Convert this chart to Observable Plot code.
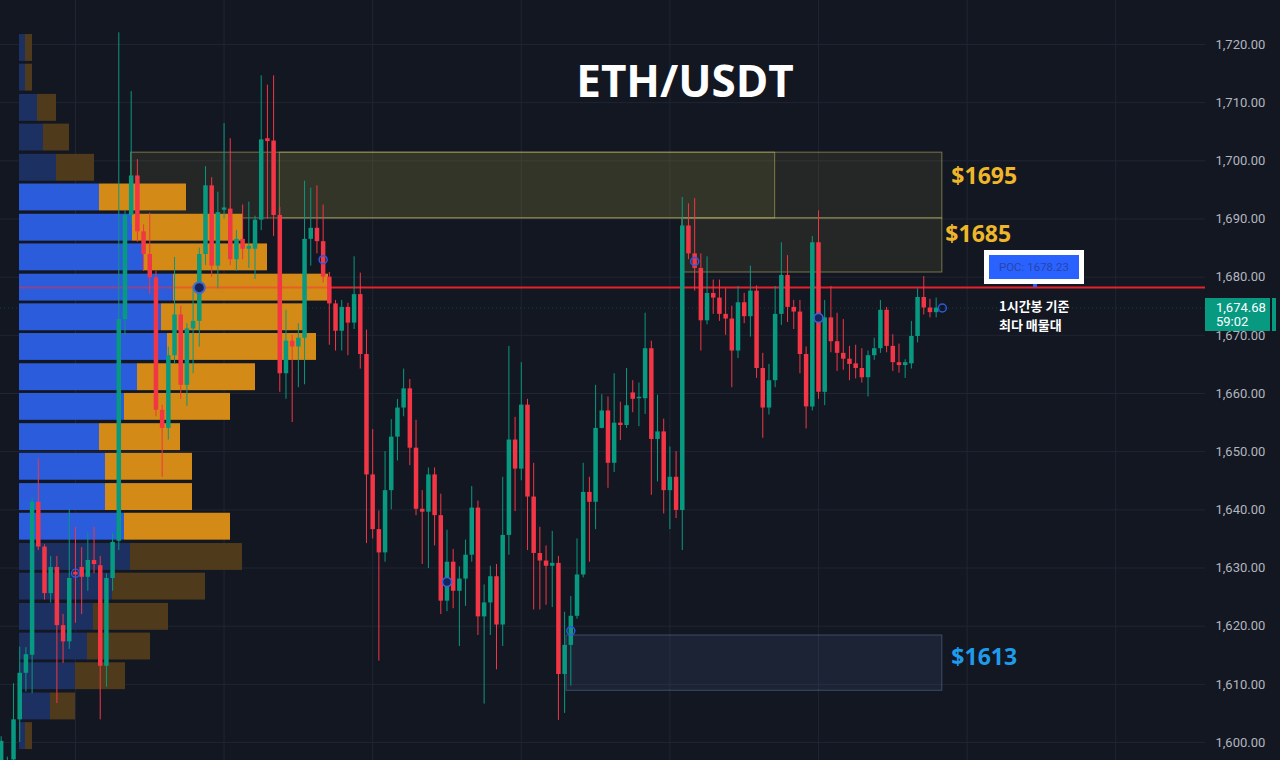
<!DOCTYPE html>
<html>
<head>
<meta charset="utf-8">
<script src="https://cdn.jsdelivr.net/npm/d3@7"></script>
<script src="https://cdn.jsdelivr.net/npm/@observablehq/plot@0.6"></script>
<style>
  html, body { margin: 0; padding: 0; background: #131722; overflow: hidden; }
  #wrap { position: relative; width: 1280px; height: 760px; overflow: hidden; background: #131722; font-family: "Open Sans", "Noto Sans", sans-serif; }
  #wrap > svg, #wrap > .layer { position: absolute; left: 0; top: 0; }
  .ov { position: absolute; }
</style>
</head>
<body>
<div id="wrap"></div>
<script>
// ---------------- DATA ----------------
const chartTitle = "ETH/USDT";

// 1h candles (index order, left to right)
const candleOpen = [1596.5,1593.0,1597.0,1603.9,1611.9,1615.0,1641.3,1633.6,1625.6,1630.1,1620.1,1617.3,1629.3,1630.1,1628.4,1631.3,1630.4,1613.1,1628.2,1634.6,
1672.7,1690.6,1697.4,1687.8,1683.9,1679.9,1657.1,1654.0,1666.5,1673.5,1661.4,1671.1,1672.4,1683.9,1695.7,1681.9,1691.5,1691.7,1683.0,1686.5,
1684.8,1684.8,1689.8,1703.8,1703.4,1690.6,1663.4,1669.0,1668.0,1669.5,1686.5,1688.4,1686.1,1680.0,1675.4,1670.7,1674.8,1672.1,1677.0,1666.7,
1646.0,1636.6,1632.6,1643.3,1652.5,1657.5,1660.8,1650.6,1640.1,1639.6,1646.0,1639.0,1624.3,1631.0,1626.0,1628.1,1632.2,1640.3,1621.6,1624.0,
1628.5,1620.2,1635.6,1652.0,1647.0,1658.0,1642.2,1632.5,1631.2,1630.3,1630.8,1611.7,1616.7,1621.7,1628.8,1643.0,1641.3,1654.0,1657.0,1648.0,
1654.9,1654.5,1660.1,1659.1,1659.1,1667.7,1652.1,1653.4,1643.3,1645.6,1639.9,1688.8,1684.0,1681.5,1672.5,1677.2,1676.4,1673.6,1672.8,1667.3,
1675.6,1673.2,1677.6,1664.3,1657.5,1662.2,1673.6,1680.3,1674.8,1674.0,1666.7,1657.7,1685.9,1660.2,1673.0,1668.9,1666.9,1665.9,1665.1,1664.3,
1662.7,1666.5,1667.7,1674.3,1668.1,1665.3,1664.8,1665.1,1669.8,1676.5,1674.7,1673.9];
const candleHigh = [1601.0,1597.5,1610.1,1616.4,1616.3,1642.0,1648.8,1634.0,1632.0,1632.0,1622.0,1640.0,1637.0,1633.5,1636.0,1637.0,1632.0,1629.0,1636.0,1722.0,
1691.5,1711.9,1700.2,1689.0,1691.0,1681.0,1658.0,1668.0,1683.4,1675.0,1672.0,1678.5,1685.0,1699.0,1697.1,1694.6,1706.4,1703.8,1688.0,1692.4,
1692.9,1690.5,1714.6,1713.0,1714.6,1692.0,1674.3,1670.0,1672.0,1696.5,1695.3,1695.7,1692.4,1680.8,1676.0,1676.0,1675.5,1683.5,1680.7,1670.9,
1653.8,1639.8,1650.0,1655.5,1659.0,1664.2,1662.4,1655.4,1643.3,1647.2,1647.2,1642.7,1636.5,1633.2,1630.2,1634.8,1644.0,1641.5,1627.1,1630.3,
1630.6,1645.6,1668.1,1655.9,1665.3,1659.0,1648.0,1637.0,1633.8,1636.3,1632.0,1622.4,1625.1,1635.0,1648.0,1645.6,1661.4,1659.8,1659.4,1663.4,
1658.5,1664.3,1662.2,1661.8,1673.8,1669.0,1659.7,1655.6,1650.8,1650.0,1693.7,1692.6,1693.5,1684.0,1683.5,1679.5,1679.5,1678.0,1675.0,1678.4,
1677.2,1681.9,1678.5,1666.9,1665.0,1678.4,1685.9,1683.7,1676.0,1676.0,1668.0,1687.0,1691.4,1676.0,1678.4,1673.8,1672.7,1668.1,1668.3,1667.7,
1667.3,1669.5,1676.0,1674.8,1670.1,1668.5,1665.8,1672.4,1678.0,1680.1,1676.2,1676.4];
const candleLow = [1596.0,1592.0,1596.0,1600.0,1608.7,1608.4,1633.0,1624.5,1624.0,1606.7,1613.6,1616.0,1620.5,1622.0,1626.0,1629.0,1603.9,1609.5,1626.0,1633.0,
1670.0,1689.0,1686.0,1681.0,1677.0,1656.0,1645.6,1652.0,1665.0,1659.0,1657.8,1663.4,1668.0,1682.0,1680.0,1678.0,1690.0,1682.0,1681.0,1683.0,
1681.5,1679.6,1688.0,1690.0,1687.0,1660.2,1659.0,1655.0,1661.0,1661.5,1681.9,1684.0,1679.0,1668.3,1667.3,1667.3,1666.5,1671.0,1664.2,1634.2,
1635.0,1614.0,1631.0,1640.0,1648.4,1656.0,1647.6,1639.0,1630.6,1629.9,1633.8,1622.0,1622.5,1623.0,1616.5,1623.4,1631.0,1618.4,1606.6,1618.4,
1612.5,1616.5,1632.2,1639.7,1645.0,1633.0,1622.8,1622.8,1623.6,1623.2,1603.8,1605.0,1609.7,1621.2,1628.3,1631.0,1636.6,1653.9,1643.7,1646.4,
1651.9,1654.0,1656.7,1654.3,1656.4,1642.5,1644.8,1639.3,1636.6,1638.5,1633.0,1683.0,1677.6,1667.3,1671.8,1673.6,1672.4,1670.0,1661.0,1666.0,
1672.0,1669.7,1662.6,1652.3,1656.3,1661.0,1671.7,1672.2,1671.0,1663.4,1653.9,1657.0,1659.0,1657.9,1667.0,1663.8,1664.0,1662.2,1662.5,1661.8,
1659.4,1665.7,1666.9,1667.0,1663.8,1663.5,1662.6,1664.2,1668.7,1673.5,1673.0,1673.0];
const candleClose = [1600.2,1596.5,1603.9,1611.9,1615.1,1641.3,1633.6,1625.6,1630.1,1620.1,1617.3,1628.2,1628.8,1628.4,1631.3,1630.6,1613.1,1628.2,1634.4,1672.7,
1690.6,1697.4,1687.8,1683.9,1679.9,1657.1,1654.0,1666.5,1673.5,1661.4,1671.1,1672.4,1683.9,1695.7,1681.9,1691.1,1691.9,1683.0,1686.5,1684.8,
1685.3,1689.8,1703.6,1703.3,1690.6,1663.4,1669.0,1668.0,1669.5,1686.5,1688.4,1686.1,1680.0,1675.4,1670.7,1674.8,1672.1,1677.0,1666.7,1646.0,
1636.6,1632.6,1643.3,1652.5,1657.5,1660.8,1650.6,1640.1,1639.6,1646.0,1639.0,1624.3,1631.0,1626.0,1628.1,1632.2,1640.3,1621.6,1624.0,1628.5,
1620.2,1635.6,1652.0,1647.0,1658.0,1642.2,1632.5,1631.2,1630.3,1630.8,1611.7,1616.7,1621.7,1628.8,1643.0,1641.3,1654.0,1657.0,1648.0,1654.9,
1654.5,1657.9,1659.0,1659.3,1667.7,1652.1,1653.4,1643.3,1645.6,1639.9,1688.8,1684.0,1681.5,1672.5,1677.2,1676.4,1673.6,1672.8,1667.3,1675.6,
1673.2,1677.6,1664.3,1657.5,1662.2,1673.6,1680.3,1674.8,1674.0,1666.7,1657.7,1685.9,1660.2,1673.0,1668.9,1666.9,1665.9,1665.0,1664.3,1662.7,
1666.5,1667.7,1674.3,1668.1,1665.3,1664.8,1665.3,1669.8,1676.5,1674.7,1673.9,1674.68];

// volume profile (rows top to bottom), volumes in arbitrary units
const profilePrice = [1719.4,1714.3,1709.1,1704.0,1698.8,1693.7,1688.5,1683.4,1678.2,1673.1,1668.0,1662.8,1657.7,1652.5,1647.4,1642.2,1637.1,1631.9,1626.8,1621.6,1616.5,1611.4,1606.2,1601.1];
const profileBuy  = [0.6,0.6,1.8,2.4,3.7,8.0,11.3,12.4,15.4,14.2,14.8,11.8,10.5,8.0,8.6,8.6,10.5,11.1,9.3,7.4,6.8,5.6,3.1,0.6];
const profileSell = [0.7,0.7,1.9,2.6,3.8,8.7,11.1,12.4,15.5,14.2,14.9,11.8,10.6,8.1,8.7,8.7,10.6,11.2,9.3,7.5,6.3,5.0,2.5,0.7];
const profileBin = 5.14;
const pocPrice = 1678.23;
const valueAreaHigh = 1696.2;
const valueAreaLow = 1634.5;

// zones (candle index span, price span)
const zoneStart = [21, 45, 110, 91.3];
const zoneEnd   = [125, 152, 152, 152];
const zoneLow   = [1690.1, 1690.1, 1680.8, 1608.9];
const zoneHigh  = [1701.4, 1701.4, 1690.1, 1618.4];
const zoneKind  = ["supply", "supply", "supply", "demand"];

const levelLabels = ["$1695", "$1685", "$1613"];
const levelValues = [1695, 1685, 1613];

// pivot markers
const ringIdx = [12, 52, 92, 112, 152];
const ringPrice = [1629.1, 1683.0, 1619.2, 1682.7, 1674.7];
const filledIdx = [32, 72, 132];
const filledPrice = [1678.2, 1627.6, 1673.0];

const yTicks = [1600,1610,1620,1630,1640,1650,1660,1670,1680,1690,1700,1710,1720];
const dayGridIdx = [12, 36, 60, 84, 108, 132, 156, 180];

const lastPrice = 1674.68;
const countdown = "59:02";
const pocNote = ["1시간봉 기준", "최다 매물대"];

// ---------------- STYLE / LAYOUT ----------------
const W = 1280, H = 760, MR = 75;
const bg = "#131722";
const up = "#089981", down = "#f23645";
const xDomain = [-0.105, 194.5];
const yDomain = [1596.91, 1727.56];
const common = { width: W, height: H, marginTop: 0, marginBottom: 0, marginLeft: 0, marginRight: MR };

const candles = candleOpen.map((o, i) => ({ i, o, h: candleHigh[i], l: candleLow[i], c: candleClose[i] }));
const zones = zoneStart.map((s, k) => ({ s, e: zoneEnd[k], lo: zoneLow[k], hi: zoneHigh[k], kind: zoneKind[k] }));
const levels = levelLabels.map((t, k) => ({ t, v: levelValues[k] }));
const rows = profilePrice.map((p, k) => ({ p, buy: profileBuy[k], sell: profileSell[k], va: p <= valueAreaHigh && p >= valueAreaLow }));
const rings = ringIdx.map((i, k) => ({ i, p: ringPrice[k] }));
const filled = filledIdx.map((i, k) => ({ i, p: filledPrice[k] }));
const pocRow = rows.reduce((a, b) => (a.buy + a.sell >= b.buy + b.sell ? a : b));
const labelX = d3.max(zoneEnd);

const wrap = document.getElementById("wrap");

// Layer 1: background, grid, zones
const layer1 = Plot.plot({
  ...common,
  style: { background: bg },
  x: { domain: xDomain, axis: null },
  y: { domain: yDomain, axis: null },
  marks: [
    Plot.ruleY(yTicks, { stroke: "#202533", strokeWidth: 1 }),
    Plot.ruleX(dayGridIdx, { stroke: "#202533", strokeWidth: 1 }),
    Plot.ruleY([lastPrice], { stroke: up, strokeOpacity: 0.35, strokeDasharray: "1,3" }),
    Plot.rect(zones, {
      x1: "s", x2: "e", y1: "lo", y2: "hi",
      fill: d => d.kind === "supply" ? "#a39a45" : "#4d6d9e",
      fillOpacity: d => d.kind === "supply" ? 0.12 : 0.15,
      stroke: d => d.kind === "supply" ? "#b4ad62" : "#56708f",
      strokeOpacity: 0.6, strokeWidth: 1
    })
  ]
});
wrap.appendChild(layer1);

// Layer 2: volume profile
const layer2 = Plot.plot({
  ...common,
  marginLeft: 19,
  style: { background: "transparent" },
  x: { domain: [0, 118.6], axis: null },
  y: { domain: yDomain, axis: null },
  marks: [
    Plot.ruleY([pocPrice], { stroke: "#e5222b", strokeWidth: 2 }),
    Plot.rect(rows, {
      x1: d => 0, x2: "buy", y1: d => d.p - profileBin / 2, y2: d => d.p + profileBin / 2,
      insetTop: 1.5, insetBottom: 1.5,
      fill: d => d.va ? "#2a5cdc" : "#1c3062"
    }),
    Plot.rect(rows, {
      x1: "buy", x2: d => d.buy + d.sell, y1: d => d.p - profileBin / 2, y2: d => d.p + profileBin / 2,
      insetTop: 1.5, insetBottom: 1.5,
      fill: d => d.va ? "#d38a16" : "#4f3a1c"
    }),
    Plot.ruleY([pocPrice], { x1: d => 0, x2: d => pocRow.buy + pocRow.sell, stroke: "#ff2a3a", strokeOpacity: 0.45, strokeWidth: 2 })
  ]
});
wrap.appendChild(layer2);

// Layer 3: candles, markers, labels, price axis
const labelStyle = { textAnchor: "start", lineAnchor: "middle", fontSize: 23, fontWeight: 700, fontFamily: "Open Sans" };
const main = Plot.plot({
  ...common,
  style: { background: "transparent", color: "#b2b5be", fontFamily: "Roboto, sans-serif", fontSize: "13px" },
  x: { domain: xDomain, axis: null },
  y: { domain: yDomain, axis: "right", ticks: yTicks, tickFormat: d3.format(",.2f"), tickSize: 0, tickPadding: 10, label: null },
  marks: [
    Plot.ruleX(candles, { x: "i", y1: "l", y2: "h", stroke: d => d.c >= d.o ? up : down, strokeWidth: 1 }),
    Plot.ruleX(candles, {
      x: "i",
      y1: d => Math.min(d.o, d.c),
      y2: d => Math.max(d.o, d.c, Math.min(d.o, d.c) + 0.25),
      stroke: d => d.c >= d.o ? up : down, strokeWidth: 4.5
    }),
    Plot.dot(filled.filter(d => d.i !== 32), { x: "i", y: "p", r: 4.5, fill: "#17245a", stroke: "#3a64d8", strokeWidth: 1.6 }),
    Plot.dot(filled.filter(d => d.i === 32), { x: "i", y: "p", r: 5.5, fill: "#17245a", stroke: "#3f67d4", strokeWidth: 2 }),
    Plot.dot(rings, { x: "i", y: "p", r: 4, fill: "none", stroke: "#2d5ae0", strokeWidth: 1.5 }),
    Plot.text(levels.filter(d => d.v === 1695), { x: d => labelX, y: "v", text: "t", dx: 9, dy: -13, fill: "#f0b62a", ...labelStyle }),
    Plot.text(levels.filter(d => d.v === 1685), { x: d => labelX, y: "v", text: "t", dx: 3, dy: -13, fill: "#f0b62a", ...labelStyle }),
    Plot.text(levels.filter(d => d.v === 1613), { x: d => labelX, y: "v", text: "t", dx: 9, dy: -9, fill: "#1f9bec", ...labelStyle })
  ]
});
wrap.appendChild(main);

// ----- overlays positioned through the plot's y scale -----
const ys = main.scale("y");
const yOf = d3.scaleLinear(ys.domain, ys.range);
const yPoc = yOf(pocPrice);
const yLast = yOf(lastPrice);

function ov(html, css) {
  const d = document.createElement("div");
  d.className = "ov";
  d.innerHTML = html;
  Object.assign(d.style, css);
  wrap.appendChild(d);
  return d;
}

// title
ov(chartTitle, { left: "0px", width: "1370px", top: "58px", textAlign: "center", color: "#ffffff",
  fontFamily: "'Open Sans', sans-serif", fontWeight: "700", fontSize: "44px", lineHeight: "44px" });

// POC box
ov(`<div style="background:#2962ff;height:24px;line-height:24px;text-align:center;color:#2a45a8;font-family:Roboto,sans-serif;font-size:11.5px;">POC: ${pocPrice.toFixed(2)}</div>`,
  { left: "984px", top: (yPoc - 37) + "px", width: "100px", height: "34px", background: "#ffffff", padding: "5px", boxSizing: "border-box" });
ov("", { left: "1033px", top: (yPoc - 3) + "px", width: "4px", height: "3px", background: "#2962ff" });

// Korean note
ov(pocNote.join("<br>"), { left: "999px", top: (yPoc + 9) + "px", color: "#ffffff",
  fontFamily: "'Noto Sans CJK KR', sans-serif", fontWeight: "700", fontSize: "13px", lineHeight: "19px" });

// last price tag
ov(`${d3.format(",.2f")(lastPrice)}<br>${countdown}`, { left: "1205px", top: (yLast - 10) + "px", width: "65px", height: "33px",
  background: up, color: "#ffffff", fontFamily: "Roboto, sans-serif", fontSize: "13px", lineHeight: "14px",
  padding: "3px 0 0 11px", boxSizing: "border-box" });
ov("", { left: "1272px", top: (yLast - 10) + "px", width: "4px", height: "33px", background: up });
</script>
</body>
</html>
